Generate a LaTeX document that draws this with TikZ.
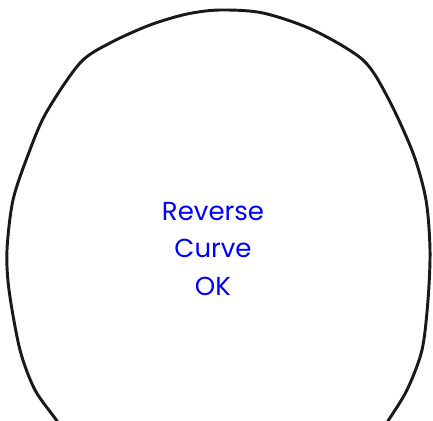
\documentclass[tikz,border=0pt]{standalone}
\usepackage{fontspec}
\setmainfont{Poppins}
\usepackage{tikz}
\begin{document}
\begin{tikzpicture}[x=0.75pt, y=-0.75pt]
        % Fix the page size
        \useasboundingbox (0,0) rectangle (433,421);
        \clip (0,0) rectangle (433,421);
        
        % Draw the outline
        \draw[line width=2.2pt, black!90] plot[smooth, tension=0.5] coordinates {
            (72,445) (57,421) (35,390) (20,350) (9,290) (7,250) (13,200)
            (28,155) (46,113) (80,63) (110,43) (150,25) (187,14) (220,10)
            (263,13) (313,30) (363,60) (388,98) (413,153) (426,200)
            (430,250) (428,300) (422,350) (407,390) (388,421) (373,445)};
        
        % Label inside
        \node[text=blue, align=center, font=\fontsize{19.5}{28}\selectfont] (label)
            at (213,249) {Reverse\\Curve\\OK};
    \end{tikzpicture}
\end{document}
